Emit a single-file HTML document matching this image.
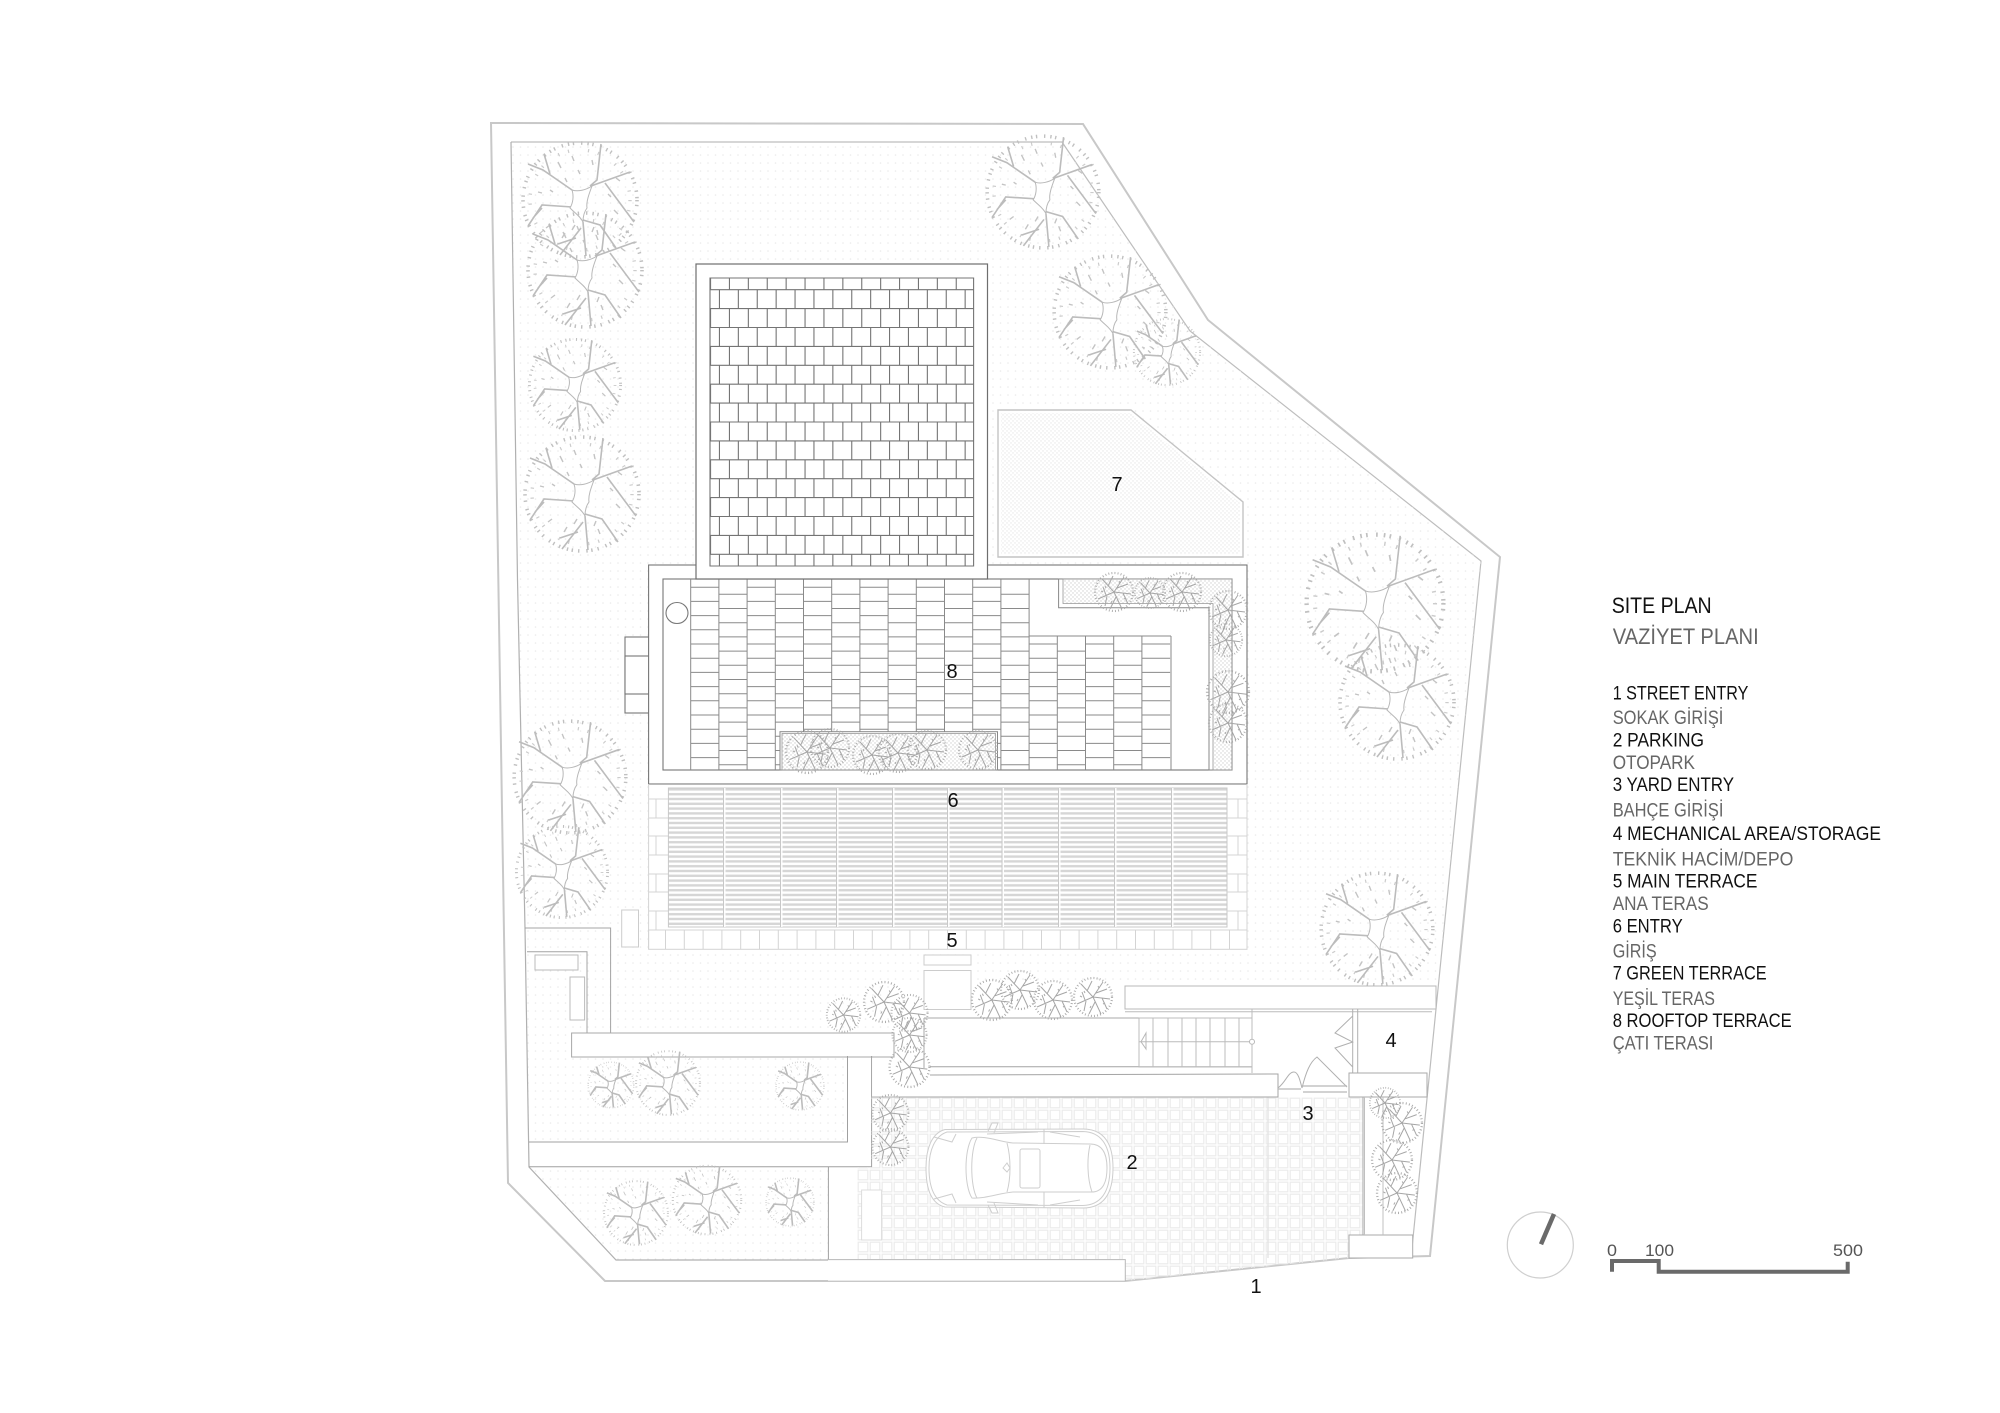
<!DOCTYPE html>
<html lang="en"><head><meta charset="utf-8"><title>Site Plan</title>
<style>
html,body{margin:0;padding:0;background:#fff}
svg{display:block}
text{font-family:"Liberation Sans","DejaVu Sans",sans-serif}
.k{fill:#111;font-size:19px}
.g{fill:#666;font-size:19px}
.n{fill:#111;font-size:20px;text-anchor:middle}
.l{fill:none;stroke:#a4a4a4;stroke-width:1}
.d{fill:none;stroke:#767676;stroke-width:1.1}
.p{fill:none;stroke:#d4d4d4;stroke-width:1}
.sb{fill:none;stroke:#a6a6a6;stroke-width:1;vector-effect:non-scaling-stroke}
.bp{vector-effect:non-scaling-stroke;fill:none}
</style></head><body>
<svg xmlns="http://www.w3.org/2000/svg" width="2000" height="1413" viewBox="0 0 2000 1413">
<defs>
<pattern id="dots" patternUnits="userSpaceOnUse" width="7.5" height="8">
<circle cx="3" cy="3" r=".8" fill="#eaeaea"/>
</pattern>
<pattern id="fine" patternUnits="userSpaceOnUse" width="4" height="4">
<circle cx="1" cy="1" r=".7" fill="#cfcfcf"/><circle cx="3" cy="3" r=".7" fill="#cfcfcf"/>
</pattern>
<pattern id="louv" patternUnits="userSpaceOnUse" width="10" height="4.8">
<rect x="0" y="1" width="10" height="2.4" fill="#d6d6d6"/>
</pattern>
<pattern id="band" patternUnits="userSpaceOnUse" x="665" y="930" width="18.8" height="30">
<path d="M.5 0V30" stroke="#d4d4d4" stroke-width="1"/>
</pattern>
<pattern id="pave" patternUnits="userSpaceOnUse" x="857" y="1097" width="12" height="12">
<rect x="1.2" y="1.2" width="9.6" height="9.6" fill="none" stroke="#ebebeb" stroke-width="1.2"/>
</pattern>
<path id="bp" class="bp" d="M-8 -10L-37 -30L-52 -36M-30 -26L-36 -46M10 -14L17 -20L21 -56M11 -14L50 -28M25 -17L54 22M-8 7L-38 5L-52 26M-38 8L-47 18M3 20L20 25L36 48M3 22L6 56M1 28L-20 55M-4 38L-22 44"/>
<g id="t">
<circle r="57" fill="none" stroke="#c0c0c0" stroke-width="3.6" stroke-dasharray="1.4 3.5 1.4 7 1.4 5"/>
<circle r="50" fill="none" stroke="#cccccc" stroke-width="3.4" stroke-dasharray="1.2 9 1.2 19"/>
<path d="M-22 -38l3 6M-8 -44l2 5M12 -40l1 5M36 -22l4 3M34 10l4 4M18 40l-2 -5M-18 38l3 -5M-34 28l4 -3M-30 -10l3 2M-42 -8l4 1M28 -6l3 3M12 32l2 -5M-8 30l3 -5M-15 -22l2 4M-2 -30l2 4" fill="none" stroke="#c4c4c4" stroke-width="1.4"/>
<use href="#bp" stroke="#bcbcbc" stroke-width="1.6"/>
<path d="M-8 -10C-2 -8 6 -10 12 -14C9 -6 6 2 7 8C4 12 3 18 3 22C0 16 -4 14 -10 8C-7 3 -6 -4 -8 -10Z" fill="#fff" stroke="#b8b8b8" stroke-width="1" style="vector-effect:non-scaling-stroke"/>
</g>
<g id="s">
<circle r="19" fill="none" stroke="#aaa" stroke-width="2.2" stroke-dasharray=".9 2.2"/>
<path class="sb" d="M0 0L-12 -13M-6 -6L-1 -16M0 0L10 -15M3 -4L14 -8M0 0L17 2M9 1L14 12M0 0L8 17M2 5L-4 17M0 0L-16 7M-8 3L-11 -5M-7 4L-9 14"/>
<path d="M-9 -6l1 2M5 -11l1 2M12 6l-2 1M-3 11l1 -2M-13 -1l2 1" fill="none" stroke="#aaa" stroke-width="1"/>
</g>
</defs>

<rect width="2000" height="1413" fill="#fff"/>

<!-- boundary -->
<path d="M491 123L1083 124L1208 320L1500 557L1430 1256L1349 1258L1125 1281L605 1281L508 1183Z" fill="#fff" stroke="#c8c8c8" stroke-width="2"/>
<path d="M511 142L1062 142L1190 331L1481 561L1411 1258" fill="none" stroke="#bdbdbd" stroke-width="1.2"/>
<path d="M511 142L1062 142L1190 331L1481 561L1438 986L894 986L894 1033L572 1033L572 1057L847 1057L847 1142L529 1142L525 928L517.5 580Z" fill="url(#dots)"/>
<path d="M529 1167L828 1167L828 1260L616 1260Z" fill="url(#dots)"/>
<path d="M511 142L517.5 580L525 928L529 1167L616 1260H828" fill="none" stroke="#b0b0b0" stroke-width="1.2"/>

<!-- trees (large) -->
<use href="#t" transform="translate(580 200)"/>
<use href="#t" transform="translate(585 270)"/>
<use href="#t" transform="translate(575 385) scale(.8)"/>
<use href="#t" transform="translate(582 494)"/>
<use href="#t" transform="translate(1043 192) scale(.98)"/>
<use href="#t" transform="translate(1110 312) scale(.98)"/>
<use href="#t" transform="translate(1167 352) scale(.58)"/>
<use href="#t" transform="translate(1375 603) scale(1.2)"/>
<use href="#t" transform="translate(1397 702)"/>
<use href="#t" transform="translate(570 777) scale(.98)"/>
<use href="#t" transform="translate(562 872) scale(.8)"/>
<use href="#t" transform="translate(1377 929) scale(.98)"/>

<!-- green terrace -->
<path d="M998 410H1131L1243 502V557H998Z" fill="#fff" stroke="#c4c4c4" stroke-width="1.4"/>
<path d="M1001 413H1130L1240 503V554H1001Z" fill="url(#fine)" opacity=".55"/>

<!-- house -->
<rect x="625" y="637" width="24" height="76" class="d" style="fill:#fff"/>
<rect x="625" y="656" width="38" height="38" class="d" style="fill:#fff"/>
<rect x="648.6" y="565" width="598.4" height="219" class="d" style="fill:#fff"/>
<rect x="663" y="579" width="569" height="191" class="d" style="fill:#fff"/>
<!-- rooftop terrace paving: horizontals drawn as dashed wide strokes -->
<g fill="none" stroke="#8a8a8a" stroke-width="28.2" stroke-dasharray="1 13.2">
<path d="M704.8 586.7V770M761.2 586.7V770M817.6 586.7V770M874 586.7V770M930.4 586.7V770M986.8 586.7V770M1043.2 643.5V770M1099.6 643.5V770M1156 643.5V770"/>
<path d="M733 593.8V770M789.4 593.8V770M845.8 593.8V770M902.2 593.8V770M958.6 593.8V770M1015 593.8V770M1071.4 650.6V770M1127.8 650.6V770"/>
</g>
<path d="M690.7 579V770M718.9 579V770M747.1 579V770M775.3 579V770M803.5 579V770M831.7 579V770M859.9 579V770M888.1 579V770M916.3 579V770M944.5 579V770M972.7 579V770M1000.9 579V770M1029.1 579V770M1057.3 636V770M1085.5 636V770M1113.7 636V770M1141.9 636V770M1171 636V770M1029.1 636H1171" fill="none" stroke="#8a8a8a" stroke-width="1"/>
<ellipse cx="677" cy="613" rx="11" ry="10.5" fill="#fff" stroke="#777" stroke-width="1.1"/>

<!-- planters -->
<path d="M1058.6 579H1232V770H1209V607.7H1058.6Z" fill="#fff" stroke="#888"/>
<path d="M1063 579H1232V770H1213V603.5H1063Z" fill="url(#fine)" stroke="#999" stroke-width=".8"/>
<rect x="780" y="731.7" width="217.5" height="38.3" fill="#fff" stroke="#888"/>
<rect x="782" y="733.5" width="213.5" height="36.5" fill="url(#fine)" stroke="#999" stroke-width=".8"/>
<use href="#s" transform="translate(1114 592)"/>
<use href="#s" transform="translate(1150 593) scale(.8)"/>
<use href="#s" transform="translate(1182 592)"/>
<use href="#s" transform="translate(1228 610)"/>
<use href="#s" transform="translate(1226 640) scale(.85)"/>
<use href="#s" transform="translate(1228 692) scale(1.1)"/>
<use href="#s" transform="translate(1228 723)"/>
<use href="#s" transform="translate(807 752) scale(1.1)"/>
<use href="#s" transform="translate(830 748)"/>
<use href="#s" transform="translate(872 755)"/>
<use href="#s" transform="translate(898 753)"/>
<use href="#s" transform="translate(927 750)"/>
<use href="#s" transform="translate(978 750)"/>

<!-- roof tiles -->
<rect x="696" y="264" width="291.5" height="315" fill="#fff" stroke="#6e6e6e" stroke-width="1.2"/>
<g fill="none" stroke="#747474" stroke-dasharray="1.1 17.8">
<path stroke-width="11.7" d="M710 283.85H973.6"/>
<path stroke-width="18.9" d="M710 318.05H973.6M710 355.85H973.6M710 393.65H973.6M710 431.45H973.6M710 469.25H973.6M710 507.05H973.6M710 544.85H973.6"/>
<path stroke-width="18.9" d="M718.9 299.15H973.6M718.9 336.95H973.6M718.9 374.75H973.6M718.9 412.55H973.6M718.9 450.35H973.6M718.9 488.15H973.6M718.9 525.95H973.6"/>
<path stroke-width="12.3" d="M718.9 560.15H973.6"/>
</g>
<path d="M710 278H973.6V566H710ZM710 289.7H973.6M710 308.6H973.6M710 327.5H973.6M710 346.4H973.6M710 365.3H973.6M710 384.2H973.6M710 403.1H973.6M710 422H973.6M710 440.9H973.6M710 459.8H973.6M710 478.7H973.6M710 497.6H973.6M710 516.5H973.6M710 535.4H973.6M710 554.3H973.6" fill="none" stroke="#747474" stroke-width="1.1"/>

<!-- entry louvres + paving -->
<rect x="648.6" y="784.6" width="598.4" height="164.7" fill="#fff"/>
<rect x="668.4" y="788" width="558.6" height="139" fill="url(#louv)" stroke="#c8c8c8"/>
<path d="M724.8 788V927M781.8 788V927M837.8 788V927M893.8 788V927M948.8 788V927M1003.3 788V927M1059.8 788V927M1115.8 788V927M1172.8 788V927" stroke="#fff" stroke-width="1.4" fill="none"/>
<path d="M723.5 788V927M780.5 788V927M836.5 788V927M892.5 788V927M947.5 788V927M1002 788V927M1058.5 788V927M1114.5 788V927M1171.5 788V927" stroke="#c8c8c8" stroke-width="1" fill="none"/>
<path class="p" d="M648.6 799H668M648.6 818H668M648.6 836H668M648.6 855H668M648.6 874H668M648.6 892H668M648.6 911H668M656 799V818M656 836V855M656 874V892M656 911V930M1227 799H1247M1227 818H1247M1227 836H1247M1227 855H1247M1227 874H1247M1227 892H1247M1227 911H1247M1238 799V818M1238 836V855M1238 874V892M1238 911V930M648.6 784V949M1247 784V949"/>
<rect x="648.6" y="930" width="598.4" height="19.3" fill="url(#band)" stroke="#d4d4d4"/>
<rect x="621.7" y="910" width="16.8" height="37" fill="#fff" stroke="#ccc"/>

<!-- entry steps -->
<rect x="924" y="955" width="47" height="10" fill="#fff" stroke="#ccc"/>
<rect x="924" y="970.5" width="47" height="39" fill="#fff" stroke="#ccc"/>

<!-- left walls -->
<path d="M525 928H610.6V1033M527 951.7H587V1033" class="l"/>
<rect x="535" y="955" width="43" height="15" fill="#fff" stroke="#bbb"/>
<rect x="570" y="977" width="14.6" height="43" fill="#fff" stroke="#bbb"/>
<rect x="571.6" y="1033" width="322.4" height="24" fill="#fff" stroke="#a8a8a8"/>
<path d="M847.5 1056V1142H529M871.6 1056V1166.7H529" fill="none" stroke="#a0a0a0" stroke-width="1"/>
<path d="M828.4 1167V1260" fill="none" stroke="#a0a0a0" stroke-width="1"/>
<rect x="872.2" y="1057.5" width="60" height="39" fill="#fff"/>

<!-- driveway paving -->
<path d="M857 1167H871.6V1097H1363V1235H1349V1258L1125 1281V1259H857Z" fill="url(#pave)"/>
<path d="M871.6 1097H1090" stroke="#b0b0b0" stroke-width="1"/>
<path d="M1363 1097V1235" stroke="#c8c8c8" stroke-width="1.6"/>
<path d="M1268 1097V1258" stroke="#e4e4e4" stroke-width="1.4"/>
<rect x="861.6" y="1190" width="20" height="50" fill="#fff" stroke="#ddd"/>
<rect x="828" y="1259.6" width="297.3" height="21" fill="#fff"/>
<path d="M828 1259.6H1125.3V1281" fill="none" stroke="#b8b8b8"/>

<!-- service yard -->
<rect x="1125" y="986" width="311" height="23" fill="#fff" stroke="#b8b8b8"/>
<path d="M924 1018H1139M924 1018V1068" fill="none" stroke="#a8a8a8"/>
<rect x="930" y="1067" width="348" height="30" fill="#fff" stroke="none"/>
<path d="M930 1066.7H1252M930 1075L1278 1074V1097H900" fill="none" stroke="#a4a4a4"/>
<path d="M1125 1011.7H1432M1139 1018H1252V1067H1139ZM1252 1009V1073M1153 1018V1067M1168 1018V1067M1182 1018V1067M1196 1018V1067M1210 1018V1067M1225 1018V1067M1239 1018V1067M1139 1041.7H1252" fill="none" stroke="#bcbcbc"/>
<path d="M1146 1033L1141 1041.7L1146 1049Z" fill="none" stroke="#b8b8b8"/>
<circle cx="1252" cy="1041.7" r="2.5" fill="#fff" stroke="#b8b8b8"/>
<path d="M1352.7 1009V1073M1357.7 1009V1073M1352.7 1016L1335 1033L1352.7 1042L1335 1048L1352.7 1067" fill="none" stroke="#b0b0b0"/>
<path d="M1302 1088C1306 1072 1310 1062 1317 1057L1347 1087M1278 1088C1286 1082 1288 1072 1294 1072C1298 1072 1300 1080 1302 1088" fill="none" stroke="#b0b0b0"/>
<path d="M1278 1089H1301M1303 1086H1347M1303 1092H1347" stroke="#b8b8b8" stroke-width="1.3" fill="none"/>
<rect x="1349" y="1073" width="78" height="24" fill="#fff" stroke="#aaa"/>
<rect x="1349" y="1235" width="63.7" height="23" fill="#fff" stroke="#aaa"/>
<path d="M1383 1097V1235M1364.5 1097V1235" fill="none" stroke="#c0c0c0"/>

<!-- small trees -->
<use href="#s" transform="translate(843.5 1015) scale(.88)"/>
<use href="#s" transform="translate(884 1002) scale(1.05)"/>
<use href="#s" transform="translate(909.5 1013) scale(.95)"/>
<use href="#s" transform="translate(909.5 1035) scale(.9)"/>
<use href="#s" transform="translate(909.5 1067) scale(1.05)"/>
<use href="#s" transform="translate(991.8 1000) scale(1.05)"/>
<use href="#s" transform="translate(1020 990)"/>
<use href="#s" transform="translate(1053 1000)"/>
<use href="#s" transform="translate(1093 997)"/>
<use href="#s" transform="translate(890.4 1113) scale(.95)"/>
<use href="#s" transform="translate(890.4 1147) scale(.95)"/>
<use href="#s" transform="translate(1385 1103) scale(.8)"/>
<use href="#s" transform="translate(1402 1123) scale(1.05)"/>
<use href="#s" transform="translate(1392 1160) scale(1.05)"/>
<use href="#s" transform="translate(1397 1193) scale(1.05)"/>
<use href="#t" transform="translate(611 1085) scale(.4)"/>
<use href="#t" transform="translate(668 1083) scale(.56)"/>
<use href="#t" transform="translate(800 1086) scale(.42)"/>
<use href="#t" transform="translate(636 1213) scale(.56)"/>
<use href="#t" transform="translate(707 1200) scale(.6)"/>
<use href="#t" transform="translate(790 1202) scale(.42)"/>

<!-- car -->
<g fill="none" stroke="#cecece" stroke-width="1">
<path d="M945 1129.5C932 1133 926 1148 926 1168C926 1190 932 1204 945 1207L1083 1208C1103 1208 1113 1195 1113 1168C1113 1142 1103 1129 1083 1129Z" fill="#fff"/>
<path d="M947 1132C935 1136 929 1150 929 1168C929 1188 935 1201 947 1205L1083 1205.5C1100 1205 1110 1193 1110 1168C1110 1144 1100 1132 1083 1131.5Z"/>
<path d="M972 1138C964 1150 964 1186 972 1198C985 1199 1000 1193 1013 1192L1090 1192C1104 1193 1107 1180 1107 1168C1107 1156 1104 1144 1090 1144L1013 1143C1000 1142 985 1135 972 1138Z"/>
<path d="M977 1138C970 1150 970 1186 977 1198M1007 1143C1011 1158 1011 1178 1007 1192M1090 1145C1087 1158 1087 1178 1092 1192"/>
<rect x="1020" y="1149" width="20" height="39" rx="2"/>
<path d="M1044 1129V1144M1044 1192V1208M987 1134L1038 1132M1050 1132L1080 1137M987 1202L1038 1205M1050 1205L1080 1200"/>
<path d="M988 1131L992 1123L998 1123L994 1133M988 1205L992 1213L998 1213L994 1203"/>
<path d="M934 1137L952 1142L956 1134M934 1199L952 1194L956 1203"/>
<path d="M1003 1168L1007 1163L1010 1168L1007 1172Z"/>
</g>

<!-- numbers -->
<text class="n" x="1256" y="1293">1</text>
<text class="n" x="1132" y="1169">2</text>
<text class="n" x="1308" y="1120">3</text>
<text class="n" x="1391" y="1047">4</text>
<text class="n" x="952" y="947">5</text>
<text class="n" x="953" y="807">6</text>
<text class="n" x="1117" y="491">7</text>
<text class="n" x="952" y="678">8</text>

<!-- legend -->
<text x="1611.7" y="613" style="fill:#111;font-size:22px" textLength="100" lengthAdjust="spacingAndGlyphs">SITE PLAN</text>
<text x="1612.7" y="644" style="fill:#666;font-size:22px" textLength="146" lengthAdjust="spacingAndGlyphs">VAZİYET PLANI</text>
<text class="k" x="1612.7" y="699.3" textLength="135.7" lengthAdjust="spacingAndGlyphs">1 STREET ENTRY</text>
<text class="g" x="1612.7" y="724" textLength="110.7" lengthAdjust="spacingAndGlyphs">SOKAK GİRİŞİ</text>
<text class="k" x="1612.7" y="746.3" textLength="91.3" lengthAdjust="spacingAndGlyphs">2 PARKING</text>
<text class="g" x="1612.7" y="769" textLength="82.3" lengthAdjust="spacingAndGlyphs">OTOPARK</text>
<text class="k" x="1612.7" y="791" textLength="121.3" lengthAdjust="spacingAndGlyphs">3 YARD ENTRY</text>
<text class="g" x="1612.7" y="816.3" textLength="110.7" lengthAdjust="spacingAndGlyphs">BAHÇE GİRİŞİ</text>
<text class="k" x="1612.7" y="840" textLength="268.3" lengthAdjust="spacingAndGlyphs">4 MECHANICAL AREA/STORAGE</text>
<text class="g" x="1612.7" y="865.3" textLength="180.7" lengthAdjust="spacingAndGlyphs">TEKNİK HACİM/DEPO</text>
<text class="k" x="1612.7" y="887.7" textLength="144.7" lengthAdjust="spacingAndGlyphs">5 MAIN TERRACE</text>
<text class="g" x="1612.7" y="910" textLength="96" lengthAdjust="spacingAndGlyphs">ANA TERAS</text>
<text class="k" x="1612.7" y="932.3" textLength="70" lengthAdjust="spacingAndGlyphs">6 ENTRY</text>
<text class="g" x="1612.7" y="957.3" textLength="44" lengthAdjust="spacingAndGlyphs">GİRİŞ</text>
<text class="k" x="1612.7" y="979.3" textLength="154" lengthAdjust="spacingAndGlyphs">7 GREEN TERRACE</text>
<text class="g" x="1612.7" y="1005" textLength="102.3" lengthAdjust="spacingAndGlyphs">YEŞİL TERAS</text>
<text class="k" x="1612.7" y="1027" textLength="179" lengthAdjust="spacingAndGlyphs">8 ROOFTOP TERRACE</text>
<text class="g" x="1612.7" y="1049.3" textLength="100.7" lengthAdjust="spacingAndGlyphs">ÇATI TERASI</text>

<!-- north + scale -->
<circle cx="1540.3" cy="1245" r="33" fill="none" stroke="#cfcfcf" stroke-width="1.2"/>
<path d="M1541 1244.3L1554 1214" stroke="#6a6a6a" stroke-width="4.5" fill="none"/>
<path d="M1612 1271.7V1261H1658.7V1271.7H1847.7V1261.7" fill="none" stroke="#6a6a6a" stroke-width="4"/>
<text x="1607" y="1256" style="fill:#555;font-size:17px" textLength="10" lengthAdjust="spacingAndGlyphs">0</text>
<text x="1645" y="1256" style="fill:#555;font-size:17px" textLength="29" lengthAdjust="spacingAndGlyphs">100</text>
<text x="1833" y="1256" style="fill:#555;font-size:17px" textLength="30" lengthAdjust="spacingAndGlyphs">500</text>
</svg>
</body></html>
